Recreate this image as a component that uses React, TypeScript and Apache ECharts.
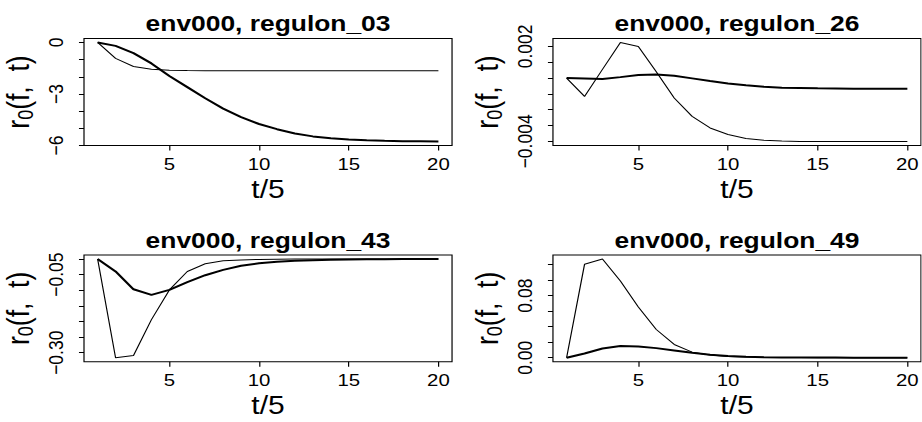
import React, { useEffect, useRef } from "react";
import * as echarts from "echarts";

// ---------- data ----------
const steps = [1, 2, 3, 4, 5, 6, 7, 8, 9, 10, 11, 12, 13, 14, 15, 16, 17, 18, 19, 20];

const titles = ["env000, regulon_03", "env000, regulon_26", "env000, regulon_43", "env000, regulon_49"];

const thick03 = [0, -0.2, -0.62, -1.22, -1.95, -2.6, -3.25, -3.85, -4.35, -4.75, -5.05, -5.3, -5.47, -5.58, -5.65, -5.7, -5.73, -5.75, -5.76, -5.77];
const thin03 = [0, -0.93, -1.4, -1.56, -1.62, -1.64, -1.65, -1.65, -1.65, -1.65, -1.65, -1.65, -1.65, -1.65, -1.65, -1.65, -1.65, -1.65, -1.65, -1.65];

const thick26 = [0, -0.00002, -0.00006, 0.00006, 0.00019, 0.00023, 0.00015, -0.00002, -0.00019, -0.00034, -0.00046, -0.00055, -0.00061, -0.00063, -0.00065, -0.00066, -0.00067, -0.00067, -0.00067, -0.00067];
const thin26 = [0, -0.00116, 0.00055, 0.00225, 0.002, 0.0004, -0.00126, -0.00242, -0.00315, -0.00357, -0.00382, -0.00393, -0.00398, -0.004, -0.00401, -0.00401, -0.00401, -0.00401, -0.00401, -0.00401];

const thick43 = [0, -0.04, -0.097, -0.115, -0.099, -0.074, -0.052, -0.035, -0.022, -0.014, -0.009, -0.006, -0.004, -0.0025, -0.0015, -0.001, -0.0006, -0.0003, -0.0002, -0.0001];
const thin43 = [0, -0.316, -0.309, -0.194, -0.099, -0.04, -0.0155, -0.0055, -0.003, -0.0015, -0.0008, -0.0004, -0.0002, -0.0001, 0, 0, 0, 0, 0, 0];

const thick49 = [0, 0.0055, 0.012, 0.015, 0.0146, 0.0124, 0.0094, 0.0064, 0.0039, 0.0021, 0.0012, 0.0007, 0.0004, 0.0003, 0.0002, 0.0002, 0.0001, 0.0001, 0.0001, 0.0001];
const thin49 = [0, 0.1204, 0.1273, 0.099, 0.0655, 0.0364, 0.0171, 0.0072, 0.0034, 0.0017, 0.0009, 0.0005, 0.0003, 0.0002, 0.0001, 0.0001, 0, 0, 0, 0];

const xTicks = [5, 10, 15, 20];

const yTicks03 = [0, -1, -2, -3, -4, -5, -6];
const yLabels03 = [0, -3, -6];
const yTicks26 = [0.002, 0.001, 0, -0.001, -0.002, -0.003, -0.004];
const yLabels26 = [0.002, -0.004];
const yTicks43 = [0, -0.05, -0.1, -0.15, -0.2, -0.25, -0.3];
const yLabels43 = [-0.05, -0.3];
const yTicks49 = [0, 0.02, 0.04, 0.06, 0.08, 0.1, 0.12];
const yLabels49 = [0, 0.08];
const yDecimals = [0, 3, 2, 2];

const xLabel = "t/5";

// ---------- layout ----------
const SX = 1.2;
const W = 922 / SX;
const H = 422;
const FONT = "'Liberation Sans', Arial, Helvetica, sans-serif";

const boxes = [
  { left: 70, top: 38.5, width: 306.7, height: 107 },
  { left: 460.8, top: 38.5, width: 306.7, height: 107 },
  { left: 70, top: 255, width: 306.7, height: 106.7 },
  { left: 460.8, top: 255, width: 306.7, height: 106.7 },
];

const panelData = [
  { thick: thick03, thin: thin03, ticks: yTicks03, labels: yLabels03 },
  { thick: thick26, thin: thin26, ticks: yTicks26, labels: yLabels26 },
  { thick: thick43, thin: thin43, ticks: yTicks43, labels: yLabels43 },
  { thick: thick49, thin: thin49, ticks: yTicks49, labels: yLabels49 },
];

function rExtent(vals: number[]) {
  const mn = Math.min(...vals);
  const mx = Math.max(...vals);
  const pad = 0.04 * (mx - mn);
  return [mn - pad, mx + pad];
}

function fmt(v: number, dec: number) {
  const s = Math.abs(v).toFixed(dec);
  return (v < -1e-12 ? "\u2212" : "") + s;
}

function buildOption() {
  const grid: any[] = [];
  const xAxis: any[] = [];
  const yAxis: any[] = [];
  const series: any[] = [];
  const graphic: any[] = [];
  const xr = rExtent(steps);

  panelData.forEach((p, i) => {
    const b = boxes[i];
    grid.push({
      left: b.left,
      top: b.top,
      width: b.width,
      height: b.height,
      show: true,
      borderColor: "#000",
      borderWidth: 1,
      backgroundColor: "transparent",
      containLabel: false,
      outerBoundsMode: "none",
    });
    xAxis.push({
      type: "value",
      gridIndex: i,
      min: xr[0],
      max: xr[1],
      axisLine: { show: false, onZero: false },
      splitLine: { show: false },
      axisTick: { show: true, length: 5, customValues: xTicks, lineStyle: { color: "#000", width: 1 } },
      axisLabel: {
        show: true,
        customValues: xTicks,
        margin: 10,
        color: "#000",
        fontSize: 17,
        fontFamily: FONT,
        formatter: (v: number) => String(v),
      },
      name: xLabel,
      nameLocation: "middle",
      nameGap: 31,
      nameTextStyle: { color: "#000", fontSize: 25, fontFamily: FONT },
    });
    const yr = rExtent([...p.thick, ...p.thin]);
    const dec = yDecimals[i];
    yAxis.push({
      type: "value",
      gridIndex: i,
      min: yr[0],
      max: yr[1],
      axisLine: { show: false, onZero: false },
      splitLine: { show: false },
      axisTick: { show: true, length: 4.2, customValues: p.ticks, lineStyle: { color: "#000", width: 1 } },
      axisLabel: {
        show: true,
        customValues: p.labels,
        rotate: 90,
        margin: 14.5,
        color: "#000",
        fontSize: 17.5,
        fontFamily: FONT,
        formatter: (v: number) => fmt(v, dec),
      },
      name: "{r|r}{s|0}{r|(f,  t)}",
      nameLocation: "middle",
      nameGap: 40,
      nameTextStyle: {
        color: "#000",
        fontFamily: FONT,
        rich: {
          r: { fontSize: 26.5, lineHeight: 30, fontFamily: FONT, color: "#000", verticalAlign: "middle" },
          s: { fontSize: 18, lineHeight: 18, fontFamily: FONT, color: "#000", verticalAlign: "bottom" },
        },
      },
    });
    series.push({
      type: "line",
      xAxisIndex: i,
      yAxisIndex: i,
      data: steps.map((s, k) => [s, p.thin[k]]),
      showSymbol: false,
      symbol: "none",
      silent: true,
      lineStyle: { color: "#000", width: 1 },
      itemStyle: { color: "#000" },
    });
    series.push({
      type: "line",
      xAxisIndex: i,
      yAxisIndex: i,
      data: steps.map((s, k) => [s, p.thick[k]]),
      showSymbol: false,
      symbol: "none",
      silent: true,
      lineStyle: { color: "#000", width: 2 },
      itemStyle: { color: "#000" },
    });
    graphic.push({
      type: "text",
      x: b.left + b.width / 2,
      y: b.top - 15,
      style: {
        text: titles[i],
        fill: "#000",
        font: `bold 22px ${FONT}`,
        align: "center",
        verticalAlign: "middle",
      },
    });
  });

  return {
    animation: false,
    backgroundColor: "#fff",
    grid,
    xAxis,
    yAxis,
    series,
    graphic,
  };
}

export default function App() {
  const ref = useRef<HTMLDivElement>(null);
  useEffect(() => {
    if (!ref.current) return;
    const chart = echarts.init(ref.current, null, { renderer: "svg" });
    chart.setOption(buildOption() as any);
    return () => chart.dispose();
  }, []);
  return (
    <div
      ref={ref}
      style={{
        position: "fixed",
        left: 0,
        top: 0,
        width: W,
        height: H,
        transform: `scaleX(${SX})`,
        transformOrigin: "0 0",
        background: "#fff",
      }}
    />
  );
}
